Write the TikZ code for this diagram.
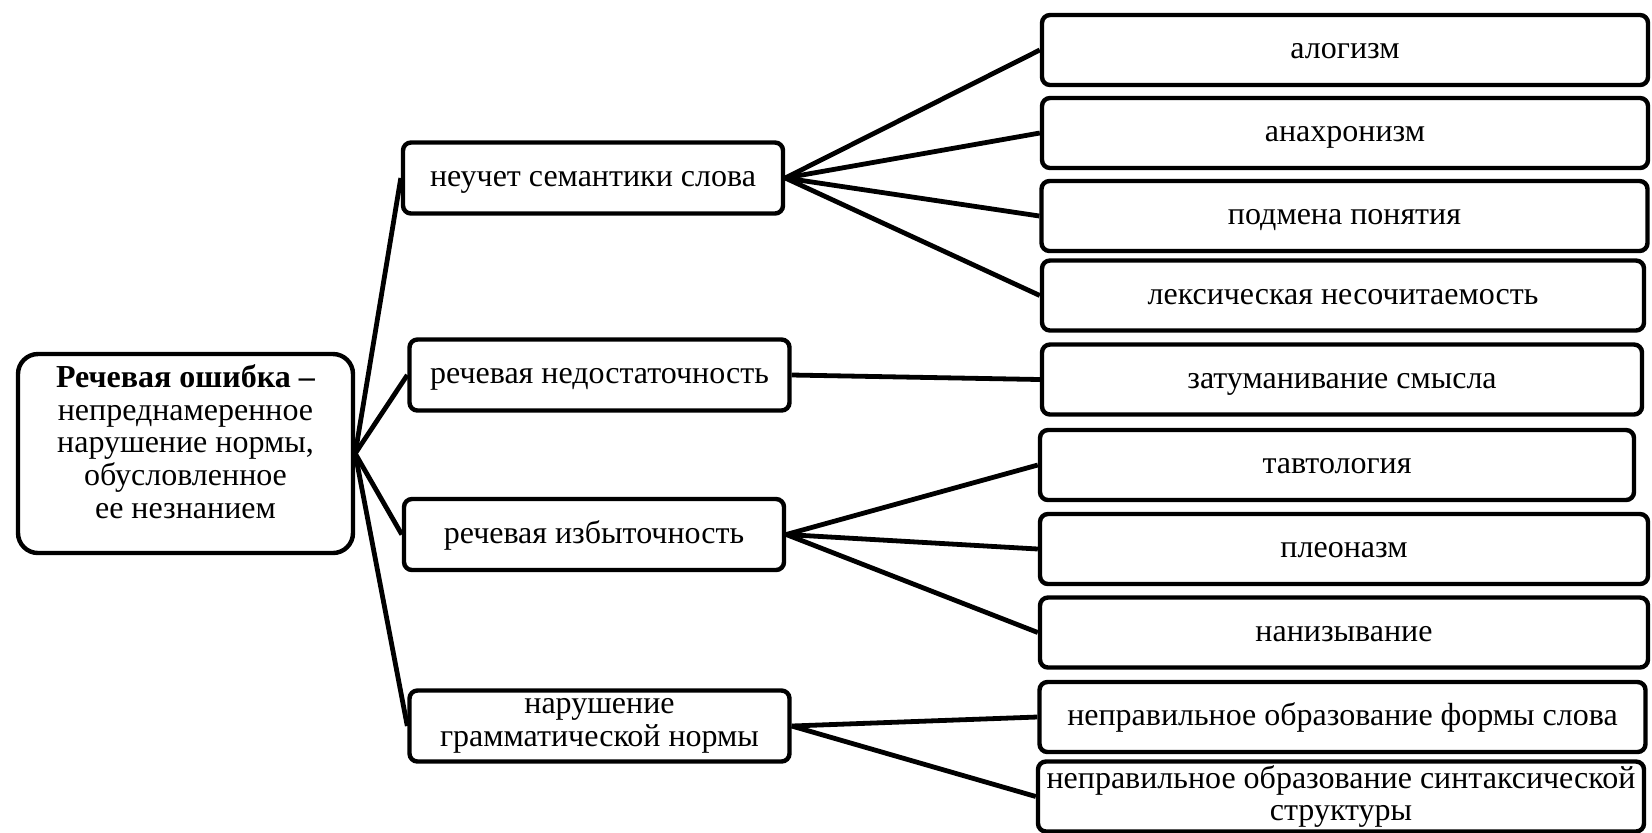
\documentclass[tikz,border=0pt]{standalone}
\usepackage{fontspec}
\setmainfont{Liberation Serif}
\usetikzlibrary{positioning}

\begin{document}
\begin{tikzpicture}[x=0.5pt, y=-0.5pt,
            box/.style={rectangle, draw, line width=2.2pt, rounded corners=4pt, align=center, inner sep=2pt, font=\fontsize{16}{16.4}\selectfont},
            oneline/.style={text height=1em, text depth=0.12em},
            root/.style={box, rounded corners=10pt, minimum width=167.5pt, minimum height=99.5pt},
            cause/.style={box, minimum width=190pt, minimum height=35.5pt},
            kind/.style={box, minimum width=303pt, minimum height=35pt},
            link/.style={line width=2.4pt}
        ]
\useasboundingbox (0,0) rectangle (1652,832);

% Root definition
            \node[root, text depth=12pt] (err) at (185.5,453.5) {\textbf{Речевая ошибка –}\\непреднамеренное\\нарушение нормы,\\обусловленное\\ее незнанием};

% Causes
            \node[cause, oneline] (sem) at (593,178) {неучет семантики слова};
            \node[cause, oneline] (lack) at (599.5,375) {речевая недостаточность};
            \node[cause, oneline] (excess) at (594,534.5) {речевая избыточность};
            \node[cause] (gram) at (599.5,726) {нарушение\\грамматической нормы};

% Kinds of errors
            \node[kind, oneline] (alog) at (1345,50) {алогизм};
            \node[kind, oneline] (anach) at (1345,133) {анахронизм};
            \node[kind, oneline] (subst) at (1344.5,216) {подмена понятия};
            \node[kind, oneline, minimum width=301pt] (lex) at (1343,295.5) {лексическая несочитаемость};
            \node[kind, oneline, minimum width=300pt] (blur) at (1342,379.5) {затуманивание смысла};
            \node[kind, oneline, minimum width=297pt] (taut) at (1337,465) {тавтология};
            \node[kind, oneline, minimum width=304pt] (pleo) at (1344,549) {плеоназм};
            \node[kind, oneline, minimum width=304pt] (chain) at (1344,632.5) {нанизывание};
            \node[kind, oneline] (form) at (1342.5,717) {неправильное образование формы слова};
            \node[kind, inner sep=1pt] (synt) at (1341,796.5) {неправильное образование синтаксической\\структуры};

% Root to causes
            \draw[link] (err.east) -- (sem.west);
            \draw[link] (err.east) -- (lack.west);
            \draw[link] (err.east) -- (excess.west);
            \draw[link] (err.east) -- (gram.west);

% Causes to kinds
            \draw[link] (sem.east) -- (alog.west);
            \draw[link] (sem.east) -- (anach.west);
            \draw[link] (sem.east) -- (subst.west);
            \draw[link] (sem.east) -- (lex.west);
            \draw[link] (lack.east) -- (blur.west);
            \draw[link] (excess.east) -- (taut.west);
            \draw[link] (excess.east) -- (pleo.west);
            \draw[link] (excess.east) -- (chain.west);
            \draw[link] (gram.east) -- (form.west);
            \draw[link] (gram.east) -- (synt.west);

        \end{tikzpicture}
\end{document}
